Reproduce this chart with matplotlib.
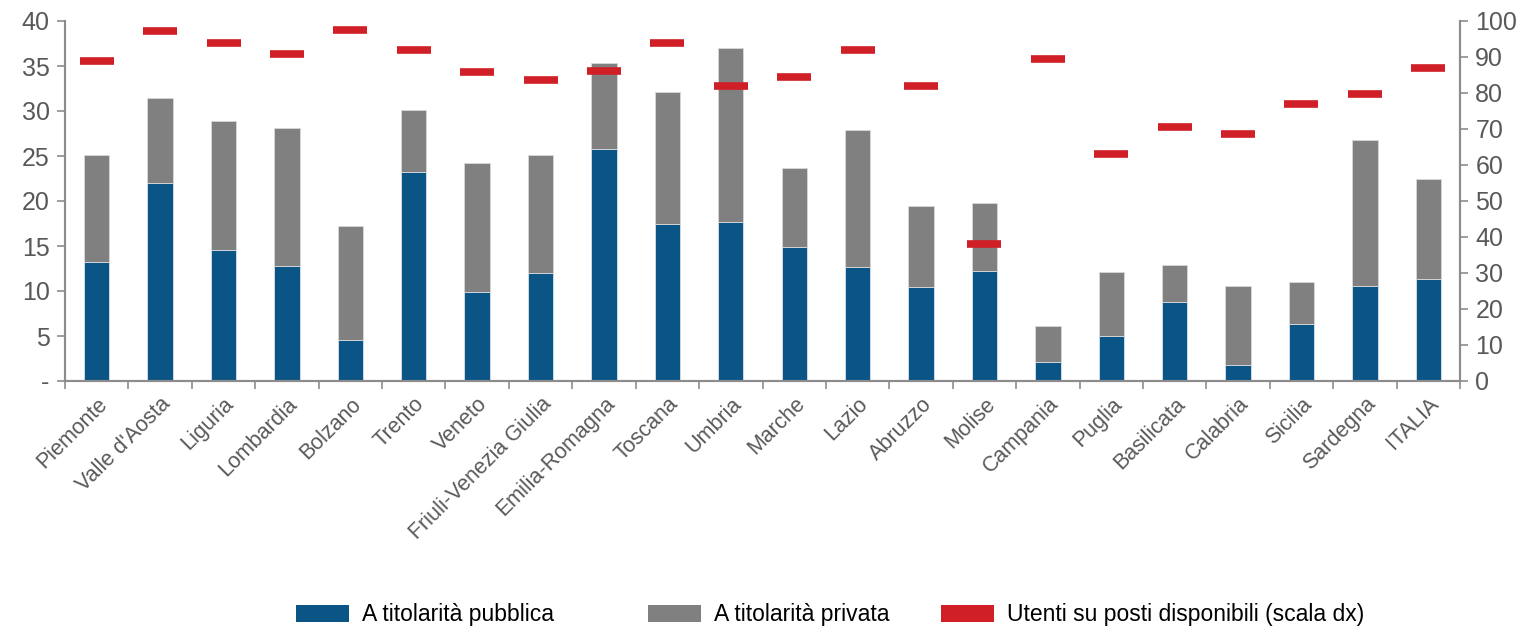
import matplotlib.pyplot as plt
import numpy as np
from matplotlib.patches import Patch
from matplotlib.ticker import FixedLocator, FuncFormatter

regioni = ["Piemonte", "Valle d'Aosta", "Liguria", "Lombardia", "Bolzano", "Trento",
           "Veneto", "Friuli-Venezia Giulia", "Emilia-Romagna", "Toscana", "Umbria",
           "Marche", "Lazio", "Abruzzo", "Molise", "Campania", "Puglia", "Basilicata",
           "Calabria", "Sicilia", "Sardegna", "ITALIA"]

# posti per 100 bambini, titolarita pubblica / privata (scala sx)
pubblica = [13.2, 22.05, 14.6, 12.8, 4.6, 23.2, 9.9, 12.0, 25.8, 17.5, 17.7,
            14.9, 12.7, 10.4, 12.25, 2.1, 5.05, 8.8, 1.75, 6.35, 10.55, 11.36]
totale = [25.1, 31.5, 28.9, 28.1, 17.2, 30.1, 24.2, 25.1, 35.3, 32.1, 37.0,
          23.7, 27.9, 19.4, 19.8, 6.06, 12.1, 12.85, 10.55, 11.0, 26.8, 22.46]
privata = [t - p for t, p in zip(totale, pubblica)]

# utenti su posti disponibili (scala dx)
utenti = [89.0, 97.3, 94.0, 90.9, 97.6, 92.0, 85.9, 83.7, 86.2, 94.0, 82.0,
          84.5, 92.0, 82.0, 38.0, 89.5, 63.1, 70.6, 68.6, 77.0, 79.8, 87.0]

c_pub = "#0B5486"
c_priv = "#808080"
c_red = "#D01F26"
c_axis = "#8C8C8C"
c_text = "#595959"

plt.rcParams['font.family'] = ['Liberation Sans', 'DejaVu Sans']

fig = plt.figure(figsize=(15.33, 6.28), dpi=100)
ax = fig.add_axes([65 / 1533, 1 - 381 / 628, (1460 - 65) / 1533, 360 / 628])
ax2 = ax.twinx()

x = np.arange(len(regioni))
w = 0.4
ax.bar(x, pubblica, w, color=c_pub, edgecolor="#d8e2ea", linewidth=0.6, zorder=2)
ax.bar(x, privata, w, bottom=pubblica, color=c_priv, edgecolor="#d9d9d9",
       linewidth=0.6, zorder=2)

ax2.plot(x, utenti, ls="none", marker="_", ms=24, mew=5.5, color=c_red, zorder=3)

ax.set_xlim(-0.5, len(regioni) - 0.5)
ax.set_ylim(0, 40)
ax2.set_ylim(0, 100)

ax.set_yticks(np.arange(0, 41, 5))
ax.yaxis.set_major_formatter(FuncFormatter(lambda v, p: "-" if v == 0 else "%d" % v))
ax2.set_yticks(np.arange(0, 101, 10))

ax.set_xticks(x)
ax.set_xticklabels(regioni, rotation=45, ha="right", rotation_mode="anchor",
                   fontsize=15.5, color=c_text)
ax.xaxis.set_minor_locator(FixedLocator(np.arange(-0.5, len(regioni), 1)))
ax.tick_params(axis="x", which="major", length=0, pad=9)
ax.tick_params(axis="x", which="minor", length=6, width=1.2, color=c_axis)

ax.tick_params(axis="y", length=6, width=1.2, color=c_axis, labelsize=18,
               labelcolor=c_text, pad=5)
ax2.tick_params(axis="y", length=6, width=1.2, color=c_axis, labelsize=18,
                labelcolor=c_text, pad=5)

for a in (ax, ax2):
    a.spines["top"].set_visible(False)
    for s in ("left", "right", "bottom"):
        a.spines[s].set_color(c_axis)
        a.spines[s].set_linewidth(1.5)

# legenda in basso, tre voci separate
voci = [(296, c_pub, "A titolarità pubblica"),
        (648, c_priv, "A titolarità privata"),
        (941, c_red, "Utenti su posti disponibili (scala dx)")]
for xp, col, lab in voci:
    fig.legend(handles=[Patch(facecolor=col, edgecolor="none")], labels=[lab],
               loc="center left", bbox_to_anchor=(xp / 1533, 1 - 615 / 628),
               frameon=False, borderpad=0, borderaxespad=0,
               handlelength=2.3, handleheight=0.75, handletextpad=0.6,
               prop={"family": ["Liberation Sans", "DejaVu Sans"], "size": 16.5})

fig.savefig("out.png", dpi=100)
